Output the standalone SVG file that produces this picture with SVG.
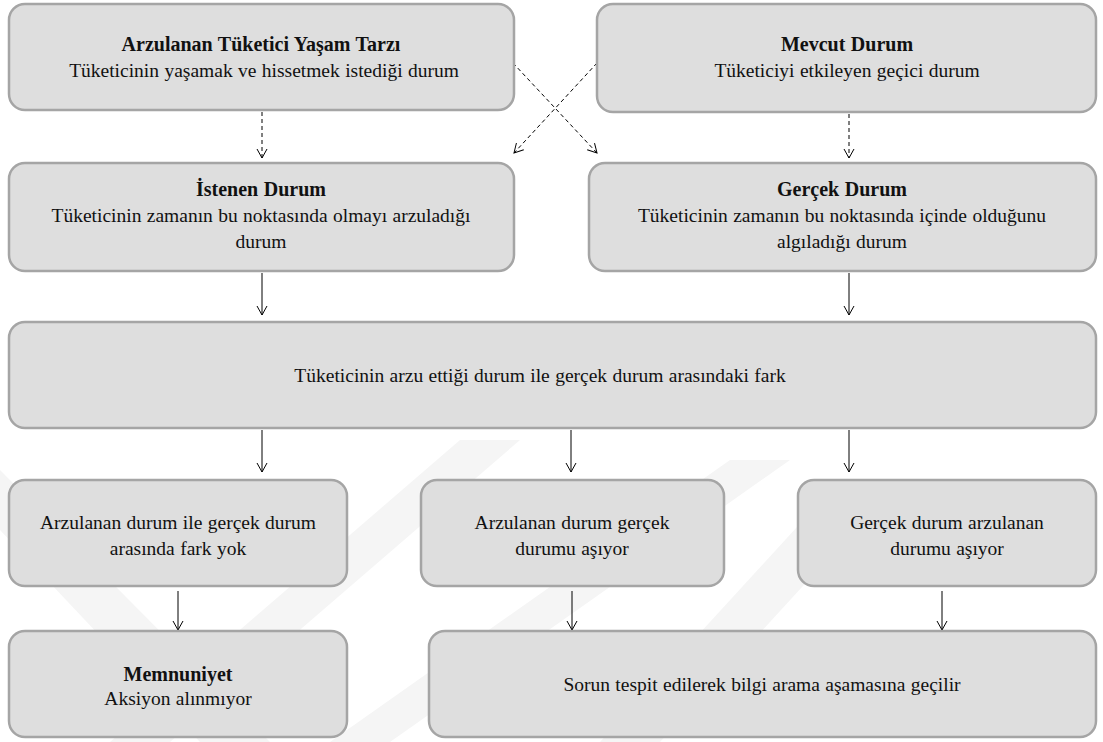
<svg xmlns="http://www.w3.org/2000/svg" width="1103" height="742" viewBox="0 0 1103 742">
  <defs>
    <style>
      .box { fill: #dedede; stroke: #a5a5a5; stroke-width: 2.5; }
      .t { font-size: 19.5px; fill: #111; text-anchor: middle; word-spacing: 0.5px; }
      .b { font-weight: bold; font-size: 20px; }
      .edge { fill: none; stroke: #000; stroke-width: 1; }
      .dash { stroke-dasharray: 4 3; }
      .wm { fill: #f5f5f5; }
    </style>
    <marker id="arrow" markerWidth="12" markerHeight="12" refX="10" refY="6" orient="auto" markerUnits="userSpaceOnUse">
      <path d="M1,1 L10,6 L1,11" fill="none" stroke="#000" stroke-width="1"/>
    </marker>
  </defs>

  <rect width="1103" height="742" fill="#fff"/>

  <!-- faint background emblem -->
  <g id="emblem">
    <polygon class="wm" points="0,470 0,530 200,742 270,742"/>
    <polygon class="wm" points="110,742 170,742 520,440 460,440"/>
    <polygon class="wm" points="330,742 390,742 790,460 730,460"/>
    <polygon class="wm" points="600,742 660,742 900,480 840,480"/>
  </g>

  <!-- connectors -->
  <g id="connectors">
    <line class="edge dash" x1="262" y1="112" x2="262" y2="158" marker-end="url(#arrow)"/>
    <line class="edge dash" x1="849" y1="114" x2="849" y2="158" marker-end="url(#arrow)"/>
    <line class="edge dash" x1="513" y1="63" x2="597" y2="153" marker-end="url(#arrow)"/>
    <line class="edge dash" x1="597" y1="63" x2="514" y2="153" marker-end="url(#arrow)"/>
    <line class="edge" x1="262" y1="273" x2="262" y2="315" marker-end="url(#arrow)"/>
    <line class="edge" x1="849" y1="273" x2="849" y2="315" marker-end="url(#arrow)"/>
    <line class="edge" x1="262" y1="430" x2="262" y2="472" marker-end="url(#arrow)"/>
    <line class="edge" x1="571" y1="430" x2="571" y2="472" marker-end="url(#arrow)"/>
    <line class="edge" x1="849" y1="430" x2="849" y2="472" marker-end="url(#arrow)"/>
    <line class="edge" x1="178" y1="591" x2="178" y2="630" marker-end="url(#arrow)"/>
    <line class="edge" x1="572" y1="591" x2="572" y2="630" marker-end="url(#arrow)"/>
    <line class="edge" x1="942" y1="591" x2="942" y2="630" marker-end="url(#arrow)"/>
  </g>

  <g id="labels-font" font-family="Liberation Serif, Tinos, Times New Roman, DejaVu Serif, serif">
  <g id="node-arzulanan-yasam">
    <rect class="box" x="9" y="4" width="505" height="106" rx="16"/>
    <text class="t b" x="261" y="51">Arzulanan Tüketici Yaşam Tarzı</text>
    <text class="t" x="264" y="77">Tüketicinin yaşamak ve hissetmek istediği durum</text>
  </g>

  <g id="node-mevcut">
    <rect class="box" x="597" y="4" width="499" height="108" rx="16"/>
    <text class="t b" x="847" y="51">Mevcut Durum</text>
    <text class="t" x="847" y="77">Tüketiciyi etkileyen geçici durum</text>
  </g>

  <g id="node-istenen">
    <rect class="box" x="9" y="163" width="505" height="108" rx="16"/>
    <text class="t b" x="261" y="196">İstenen Durum</text>
    <text class="t" x="261" y="222">Tüketicinin zamanın bu noktasında olmayı arzuladığı</text>
    <text class="t" x="261" y="248">durum</text>
  </g>

  <g id="node-gercek">
    <rect class="box" x="589" y="163" width="507" height="108" rx="16"/>
    <text class="t b" x="842" y="196">Gerçek Durum</text>
    <text class="t" x="842" y="222">Tüketicinin zamanın bu noktasında içinde olduğunu</text>
    <text class="t" x="842" y="248">algıladığı durum</text>
  </g>

  <g id="node-fark">
    <rect class="box" x="9" y="322" width="1087" height="106" rx="16"/>
    <text class="t" x="540" y="382">Tüketicinin arzu ettiği durum ile gerçek durum arasındaki fark</text>
  </g>

  <g id="node-fark-yok">
    <rect class="box" x="9" y="480" width="338" height="106" rx="16"/>
    <text class="t" x="178" y="529">Arzulanan durum ile gerçek durum</text>
    <text class="t" x="178" y="555">arasında fark yok</text>
  </g>

  <g id="node-arzulanan-asiyor">
    <rect class="box" x="421" y="480" width="303" height="106" rx="16"/>
    <text class="t" x="572" y="529">Arzulanan durum gerçek</text>
    <text class="t" x="572" y="555">durumu aşıyor</text>
  </g>

  <g id="node-gercek-asiyor">
    <rect class="box" x="798" y="480" width="298" height="106" rx="16"/>
    <text class="t" x="947" y="529">Gerçek durum arzulanan</text>
    <text class="t" x="947" y="555">durumu aşıyor</text>
  </g>

  <g id="node-memnuniyet">
    <rect class="box" x="9" y="631" width="338" height="106" rx="16"/>
    <text class="t b" x="178" y="681">Memnuniyet</text>
    <text class="t" x="178" y="705">Aksiyon alınmıyor</text>
  </g>

  <g id="node-sorun">
    <rect class="box" x="429" y="631" width="667" height="106" rx="16"/>
    <text class="t" x="762" y="691">Sorun tespit edilerek bilgi arama aşamasına geçilir</text>
  </g>
  </g>
</svg>
